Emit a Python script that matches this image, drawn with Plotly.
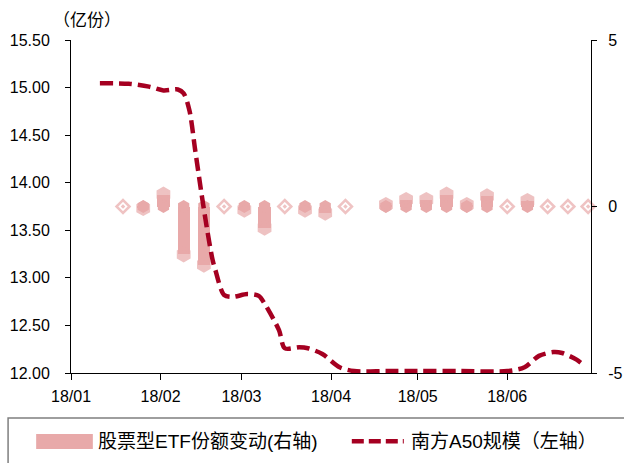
import plotly.graph_objects as go

# ---- data ----
bar_dates = ["2018-01-19", "2018-01-26", "2018-02-02", "2018-02-09", "2018-02-16",
             "2018-02-23", "2018-03-02", "2018-03-09", "2018-03-16", "2018-03-23",
             "2018-03-30", "2018-04-06", "2018-04-20", "2018-04-27", "2018-05-04",
             "2018-05-11", "2018-05-18", "2018-05-25", "2018-06-01", "2018-06-08",
             "2018-06-15", "2018-06-22", "2018-06-29"]
etf_change = [0, -0.05, 0.36, -1.44, -1.75,
              0, -0.10, -0.64, 0, -0.10,
              -0.19, 0, 0.05, 0.20, 0.20,
              0.36, 0.05, 0.31, 0, 0.17,
              0, 0, 0]

line_dates = ["2018-01-11", "2018-01-21", "2018-01-28", "2018-02-02", "2018-02-07",
              "2018-02-09", "2018-02-11", "2018-02-13", "2018-02-15", "2018-02-17",
              "2018-02-19", "2018-02-20", "2018-02-23", "2018-02-26", "2018-03-03",
              "2018-03-07", "2018-03-09", "2018-03-14", "2018-03-16", "2018-03-21",
              "2018-03-24", "2018-03-29", "2018-04-04", "2018-04-09", "2018-04-20",
              "2018-05-01", "2018-05-15", "2018-06-01", "2018-06-07", "2018-06-12",
              "2018-06-17", "2018-06-20", "2018-06-25", "2018-06-28"]
a50_scale = [15.045, 15.04, 15.01, 14.97, 14.98,
             14.94, 14.76, 14.34, 13.92, 13.53,
             13.19, 13.08, 12.82, 12.80, 12.83,
             12.81, 12.73, 12.45, 12.26, 12.27,
             12.26, 12.20, 12.06, 12.02, 12.02,
             12.02, 12.02, 12.02, 12.06, 12.18,
             12.22, 12.21, 12.14, 12.07]

month_ticks = ["2018-01-01", "2018-02-01", "2018-03-01", "2018-04-01", "2018-05-01", "2018-06-01"]
month_labels = ["18/01", "18/02", "18/03", "18/04", "18/05", "18/06"]

left_ticks = [12.0, 12.5, 13.0, 13.5, 14.0, 14.5, 15.0, 15.5]
right_ticks = [-5, 0, 5]

bar_name = "股票型ETF份额变动(右轴)"
line_name = "南方A50规模（左轴）"
unit_label = "（亿份）"

# ---- styles ----
PINK = "#E8A9A9"
RED = "#A50021"
FONT = "Liberation Sans, Arial, Noto Sans CJK SC, sans-serif"
CJK = "Noto Sans CJK SC"
DAY_MS = 86400000

fig = go.Figure()

# bar bodies
fig.add_trace(go.Bar(
    x=bar_dates, y=etf_change, width=[4.2 * DAY_MS] * len(bar_dates),
    marker=dict(color=PINK, line=dict(width=0)),
    xaxis="x", yaxis="y", showlegend=False, hoverinfo="skip"))

# bar caps (base end)
nz_dates = [d for d, v in zip(bar_dates, etf_change) if v != 0]
fig.add_trace(go.Scatter(
    x=nz_dates, y=[0] * len(nz_dates), mode="markers",
    marker=dict(symbol="hexagon", size=13, color=PINK, line=dict(width=0)),
    xaxis="x", yaxis="y", showlegend=False, hoverinfo="skip", cliponaxis=False))

# bar caps (value end) / zero markers
symbols = ["diamond-open-dot" if v == 0 else "hexagon" for v in etf_change]
sizes = [10 if v == 0 else 13 for v in etf_change]
fig.add_trace(go.Scatter(
    x=bar_dates, y=etf_change, mode="markers",
    marker=dict(symbol=symbols, size=sizes, color=PINK, line=dict(width=2.5, color=PINK)),
    xaxis="x", yaxis="y", showlegend=False, hoverinfo="skip", cliponaxis=False))

# line on left axis
fig.add_trace(go.Scatter(
    x=line_dates, y=a50_scale, mode="lines",
    line=dict(color=RED, width=4.5, dash="13px,6px", shape="spline", smoothing=0.8),
    xaxis="x", yaxis="y2", showlegend=False, hoverinfo="skip"))

axis_common = dict(showline=True, linecolor="black", linewidth=1, ticks="outside",
                   tickcolor="black", showgrid=False, zeroline=False, automargin=False)

fig.update_layout(
    width=624, height=463,
    margin=dict(l=71, r=33, t=40, b=90),
    paper_bgcolor="white", plot_bgcolor="white",
    font=dict(family=FONT, color="black"),
    bargap=0,
    xaxis=dict(type="date", range=["2018-01-01", "2018-06-30"],
               tickvals=month_ticks, ticktext=month_labels, ticklabelstandoff=3,
               tickfont=dict(size=16, family=FONT), ticklen=6, **axis_common),
    yaxis=dict(side="right", range=[-5, 5], tickvals=right_ticks,
               ticktext=[str(t) for t in right_ticks], ticklen=5,
               tickfont=dict(size=16, family=FONT), ticklabelstandoff=8, **axis_common),
    yaxis2=dict(side="left", overlaying="y", range=[12, 15.5], tickvals=left_ticks,
                ticktext=[f"{t:.2f}" for t in left_ticks], ticklen=5,
                tickfont=dict(size=16, family=FONT), ticklabelstandoff=12, **axis_common),
)

# unit label
fig.add_annotation(text=unit_label, xref="paper", yref="paper", x=0.031, y=1.066,
                   showarrow=False, font=dict(size=17, family=CJK),
                   xanchor="center", yanchor="middle")

# custom legend box
fig.add_shape(type="rect", xref="paper", yref="paper", x0=-0.121, x1=1.1, y0=-0.4, y1=-0.135,
              line=dict(color="#7F7F7F", width=1.5), fillcolor="rgba(0,0,0,0)")
fig.add_shape(type="rect", xref="paper", yref="paper", x0=-0.067, x1=0.042, y0=-0.228, y1=-0.183,
              line=dict(width=0), fillcolor=PINK)
fig.add_shape(type="line", xref="paper", yref="paper", x0=0.540, x1=0.640, y0=-0.205, y1=-0.205,
              line=dict(color=RED, width=4.5, dash="12px,5px"))
fig.add_annotation(text=bar_name, xref="paper", yref="paper", x=0.048, y=-0.205,
                   showarrow=False, xanchor="left", yanchor="middle",
                   font=dict(size=19, family=FONT))
fig.add_annotation(text=line_name, xref="paper", yref="paper", x=0.650, y=-0.205,
                   showarrow=False, xanchor="left", yanchor="middle",
                   font=dict(size=19, family=FONT))

fig.write_html("out.html", config={"displayModeBar": False},
               post_script="document.body.style.margin='0';document.body.style.padding='0';")
